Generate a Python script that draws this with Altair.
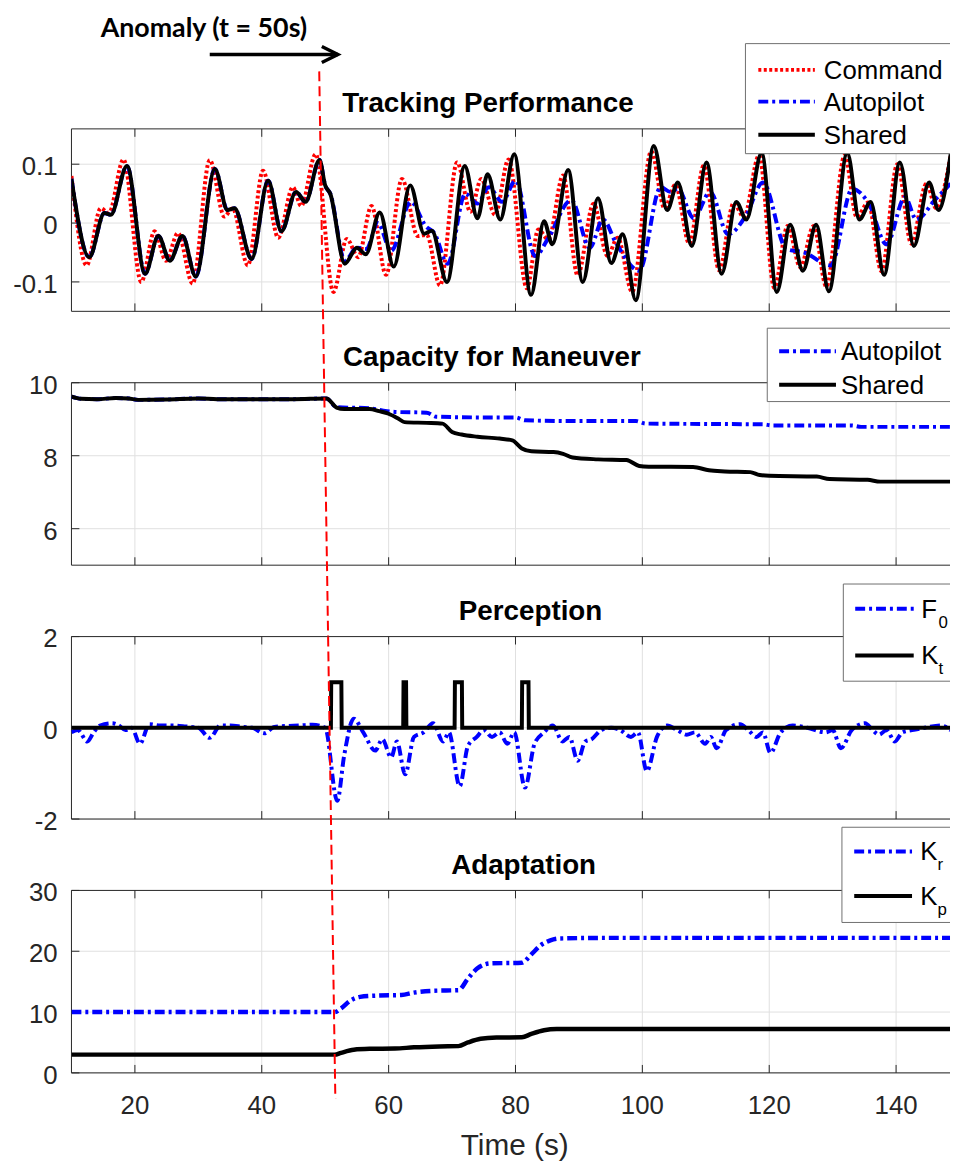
import altair as alt
import pandas as pd

# ---------------- data ----------------
X_TICKS = [20, 40, 60, 80, 100, 120, 140]
X_LABELS = ["20", "40", "60", "80", "100", "120", "140"]
T_RANGE = [10, 148.5]

TRACK_TICKS = [-0.1, 0, 0.1]
TRACK_LABELS = ["-0.1", "0", "0.1"]
TRACK_RANGE = [-0.15, 0.16]
CAP_TICKS = [6, 8, 10]
CAP_LABELS = ["6", "8", "10"]
CAP_RANGE = [5, 10]
PERC_TICKS = [-2, 0, 2]
PERC_LABELS = ["-2", "0", "2"]
PERC_RANGE = [-2, 2]
ADAPT_TICKS = [0, 10, 20, 30]
ADAPT_LABELS = ["0", "10", "20", "30"]
ADAPT_RANGE = [0, 30]

COMMAND_TRACK = [(10, 0.08), (12.4, -0.072), (14.6, 0.025), (15.9, 0.017), (18.2, 0.108), (21.0, -0.1),
                 (23.1, -0.014), (24.9, -0.064), (26.8, -0.017), (29.1, -0.103), (31.8, 0.107), (34.1, 0.011),
                 (35.4, 0.025), (37.8, -0.072), (40.2, 0.089), (42.6, -0.025), (44.9, 0.061), (46.2, 0.029),
                 (48.5, 0.117), (51.3, -0.117), (53.4, -0.027), (55.2, -0.058), (57.3, 0.029), (59.6, -0.088),
                 (62.1, 0.075), (64.6, -0.022), (66.0, -0.02), (68.1, -0.106), (70.8, 0.103), (72.9, 0.019),
                 (74.6, 0.075), (76.8, 0.014), (78.9, 0.108), (81.8, -0.111), (83.6, -0.011), (85.2, -0.028),
                 (87.5, 0.081), (89.8, -0.089), (92.3, 0.033), (94.5, -0.056), (96.1, -0.025), (98.4, -0.117),
                 (101.4, 0.122), (103.5, 0.025), (105.2, 0.065), (107.4, -0.035), (109.7, 0.098), (112.1, -0.08),
                 (114.4, 0.034), (116.0, 0.01), (118.4, 0.115), (120.8, -0.11), (122.9, -0.005), (124.9, -0.075),
                 (127.0, -0.005), (129.0, -0.108), (131.9, 0.115), (133.8, 0.01), (135.6, 0.035), (137.7, -0.082),
                 (140.2, 0.1), (142.4, -0.035), (144.8, 0.067), (146.3, 0.025), (148.6, 0.115)]

SHARED_TRACK = [(10, 0.075), (12.8, -0.058), (15.2, 0.017), (16.2, 0.014), (18.75, 0.097), (21.6, -0.086),
                (23.7, -0.022), (25.5, -0.064), (27.5, -0.022), (29.6, -0.091), (32.6, 0.092), (34.6, 0.022),
                (35.7, 0.025), (38.4, -0.061), (41.0, 0.072), (43.1, -0.014), (45.4, 0.053), (46.9, 0.036),
                (49.1, 0.107), (50.0, 0.064), (50.8, 0.05), (53.1, -0.069), (55.0, -0.042), (56.4, -0.053),
                (58.6, 0.018), (60.8, -0.074), (63.4, 0.064), (65.6, -0.018), (66.8, -0.013), (69.2, -0.1),
                (72.0, 0.097), (74.0, 0.008), (75.6, 0.083), (77.6, 0.006), (79.8, 0.117), (82.45, -0.122),
                (84.5, 0.003), (85.8, -0.036), (88.3, 0.09), (90.6, -0.1), (93.0, 0.042), (95.1, -0.068),
                (96.9, -0.019), (98.96, -0.131), (101.8, 0.131), (103.9, 0.022), (105.6, 0.069), (107.8, -0.039),
                (110.1, 0.103), (112.5, -0.086), (114.8, 0.036), (116.4, 0.006), (118.8, 0.119), (121.2, -0.117),
                (123.3, -0.003), (125.3, -0.081), (127.4, -0.003), (129.4, -0.116), (132.3, 0.119), (134.2, 0.006),
                (136.0, 0.036), (138.1, -0.088), (140.6, 0.103), (142.8, -0.039), (145.2, 0.069), (146.7, 0.022),
                (148.6, 0.117)]

# autopilot follows the shared trace until the anomaly, then these points
AUTOPILOT_TRACK_AFTER = [(53.1, -0.064), (55.0, -0.042), (56.5, -0.044), (58.3, 0.0), (60.4, -0.047),
                         (63.5, 0.036), (65.9, -0.006), (67.2, -0.017), (69.3, -0.069), (72.1, 0.05),
                         (74.0, 0.033), (75.8, 0.061), (77.9, 0.036), (80.0, 0.072), (83.1, -0.056),
                         (85.2, -0.025), (88.8, 0.039), (91.7, -0.042), (93.8, 0.006), (95.8, -0.033),
                         (99.5, -0.081), (102.9, 0.061), (104.4, 0.053), (105.6, 0.058), (108.1, 0.008),
                         (110.7, 0.053), (113.5, -0.019), (116.4, 0.014), (119.0, 0.069), (122.7, -0.044),
                         (125.5, -0.05), (129.7, -0.072), (133.1, 0.058), (135.7, 0.033), (138.5, -0.036),
                         (141.4, 0.044), (143.2, 0.006), (146.1, 0.039), (148.6, 0.067)]

SHARED_CAP = [(10, 9.62), (11.5, 9.56), (14, 9.55), (17, 9.58), (19, 9.57), (20.5, 9.53), (25, 9.54),
              (30, 9.57), (33, 9.55), (40, 9.55), (45, 9.55), (50.2, 9.57), (51.8, 9.32), (53, 9.28),
              (57, 9.28), (58.5, 9.22), (60, 9.15), (61.5, 9.02), (62.5, 8.92), (66, 8.9), (68.5, 8.88),
              (70, 8.65), (71.5, 8.58), (74, 8.52), (77.5, 8.47), (79.5, 8.42), (81, 8.2), (82.5, 8.12),
              (86, 8.1), (87.5, 8.05), (89, 7.95), (93, 7.9), (97.5, 7.88), (99.5, 7.72), (101, 7.7),
              (108, 7.69), (110.5, 7.6), (113, 7.57), (117, 7.55), (118.5, 7.47), (120, 7.45), (127.5, 7.43),
              (129.5, 7.36), (135.5, 7.34), (137.5, 7.29), (148.6, 7.29)]

AUTOPILOT_CAP_AFTER = [(51.8, 9.33), (57, 9.3), (59, 9.24), (61, 9.2), (66, 9.18), (67.5, 9.07), (74, 9.05),
                       (80, 9.05), (81.5, 8.97), (90, 8.95), (99, 8.95), (100.5, 8.88), (110, 8.87),
                       (119, 8.86), (120.5, 8.83), (133, 8.83), (134.5, 8.79), (148.6, 8.79)]

F0_PERC = [(10, -0.1), (11, -0.05), (12.5, -0.3), (13.5, -0.1), (14.5, 0.05), (16.4, 0.1), (17.5, 0.05),
           (18.5, -0.05), (19.5, 0.0), (20.8, -0.35), (22.3, 0.08), (24, 0.05), (26, 0.05), (28, 0.03),
           (30, 0.0), (31.8, -0.22), (33.5, 0.05), (35, 0.05), (37, 0.02), (38.5, 0.0), (40.4, -0.12),
           (42, 0.02), (44, 0.04), (46, 0.05), (48, 0.07), (50, 0.0), (51.9, -1.6), (53, -0.6), (54.5, 0.2),
           (56, -0.1), (57.9, -0.5), (59, -0.25), (60.4, -0.65), (61.3, -0.3), (62.6, -1.02), (64, -0.2),
           (65.5, -0.1), (67.0, 0.1), (68.6, -0.3), (69.5, -0.1), (71.2, -1.28), (72.5, -0.4), (73.9, -0.2),
           (75, -0.05), (76.3, -0.2), (77.5, -0.1), (78.7, -0.35), (79.8, -0.1), (81.5, -1.31), (83, -0.35),
           (84.5, -0.1), (85.9, 0.05), (87.4, -0.3), (88.5, -0.2), (89.8, -0.72), (91, -0.3), (92, -0.25),
           (93.5, -0.05), (95.1, 0.0), (96.5, -0.05), (98.2, -0.2), (99.3, -0.1), (100.7, -0.95),
           (102.3, -0.2), (103.9, 0.05), (105.5, -0.05), (107, -0.15), (108.3, -0.1), (109.9, -0.35),
           (110.8, -0.2), (111.7, -0.45), (113.2, -0.05), (115.4, 0.08), (116.7, -0.05), (118, -0.2),
           (119, -0.1), (120.2, -0.55), (121.8, -0.1), (123.7, 0.05), (126, 0.0), (128.9, -0.1),
           (130, -0.05), (131.3, -0.45), (133, -0.05), (135.1, 0.1), (136.3, -0.05), (137.3, -0.15),
           (138.5, -0.05), (139.8, -0.3), (141, -0.1), (142.5, -0.05), (144.5, 0.0), (147.1, 0.05),
           (148.6, -0.05)]

KT_ON = [50.9, 62.3, 70.4, 81.0]
KT_OFF = [52.6, 62.8, 71.6, 82.1]

KR_ADAPT = [(10, 10), (51.5, 10), (52.5, 10.6), (54, 11.9), (55.5, 12.5), (58, 12.7), (62, 12.8), (64, 13.2),
            (67, 13.5), (71, 13.6), (72.5, 15.5), (74, 17.2), (76, 18.0), (81, 18.1), (82.5, 19.5),
            (84, 21.0), (85.5, 21.8), (87, 22.1), (95, 22.2), (148.6, 22.2)]
KP_ADAPT = [(10, 3), (51.5, 3), (52.5, 3.3), (54.5, 3.8), (57, 3.95), (61, 4.0), (64, 4.2), (68, 4.35),
            (71, 4.4), (72.5, 5.0), (74.5, 5.6), (77, 5.8), (81, 5.85), (82.5, 6.4), (84.5, 7.0), (86.5, 7.2),
            (148.6, 7.2)]

TITLES = ["Tracking Performance", "Capacity for Maneuver", "Perception", "Adaptation"]
X_TITLE = "Time (s)"
ANOMALY_LABEL = "Anomaly (t = 50s)"
ANOMALY_TEXT_T = 14.6
ARROW_T = [31.8, 52.0]
ANOMALY_LINE_T = [49.06, 51.6]   # time where the dashed marker starts (top) and ends (bottom)

# ---------------- styling ----------------
FONT = "Liberation Sans"
AX = "#262626"
GRID = "#e0e0e0"
LEG_EDGE = "#6e6e6e"
W, H, GAP = 886, 184, 72
LW = 4
TICK_FS = 26
LEG_FS = 26

STYLE = {
    "Command": dict(color="#ff0000", dash=[3, 2.5], label=("Command", "")),
    "Autopilot": dict(color="#0000ff", dash=[10, 4, 3, 4], label=("Autopilot", "")),
    "Shared": dict(color="#000000", dash=None, label=("Shared", "")),
    "F0": dict(color="#0000ff", dash=[10, 4, 3, 4], label=("F", "0")),
    "Kt": dict(color="#000000", dash=None, label=("K", "t")),
    "Kr": dict(color="#0000ff", dash=[10, 4, 3, 4], label=("K", "r")),
    "Kp": dict(color="#000000", dash=None, label=("K", "p")),
}

xs = alt.Scale(domain=T_RANGE, nice=False, zero=False)


def yscale(r):
    return alt.Scale(domain=r, nice=False, zero=False)


one = alt.Data(values=[{"k": 0}])


def series(pairs, name, ys, interp="monotone", width=LW):
    st = STYLE[name]
    df = pd.DataFrame(pairs, columns=["t", "v"])
    kw = dict(color=st["color"], strokeWidth=width, interpolate=interp, clip=True)
    if st["dash"]:
        kw["strokeDash"] = st["dash"]
    return alt.Chart(df).mark_line(**kw).encode(
        x=alt.X("t:Q", scale=xs, axis=None),
        y=alt.Y("v:Q", scale=ys, axis=None),
    )


def frame(yticks, ylabels, ys, last):
    """Grid, box, inward ticks and tick labels, drawn from the tick lists through the scales."""
    xdf = pd.DataFrame({"t": X_TICKS, "lab": X_LABELS})
    ydf = pd.DataFrame({"v": yticks, "lab": ylabels})
    X = alt.X("t:Q", scale=xs, axis=None)
    Y = alt.Y("v:Q", scale=ys, axis=None)
    out = [
        alt.Chart(xdf).mark_rule(color=GRID, strokeWidth=1).encode(x=X, y=alt.value(0), y2=alt.value(H)),
        alt.Chart(ydf).mark_rule(color=GRID, strokeWidth=1).encode(y=Y, x=alt.value(0), x2=alt.value(W)),
        alt.Chart(one).mark_rule(color=AX, strokeWidth=1).encode(
            x=alt.value(0), y=alt.value(0), y2=alt.value(H)),
        alt.Chart(one).mark_rule(color=AX, strokeWidth=1).encode(
            x=alt.value(0), x2=alt.value(W), y=alt.value(H)),
        alt.Chart(one).mark_rule(color=AX, strokeWidth=1).encode(
            x=alt.value(0), x2=alt.value(W), y=alt.value(0)),
        alt.Chart(xdf).mark_rule(color=AX, strokeWidth=1).encode(x=X, y=alt.value(H), y2=alt.value(H - 8)),
        alt.Chart(xdf).mark_rule(color=AX, strokeWidth=1).encode(x=X, y=alt.value(0), y2=alt.value(8)),
        alt.Chart(ydf).mark_rule(color=AX, strokeWidth=1).encode(y=Y, x=alt.value(0), x2=alt.value(8)),
        alt.Chart(ydf).mark_text(font=FONT, fontSize=TICK_FS, color=AX, align="right",
                                 baseline="alphabetic", dx=-14, dy=11).encode(
            y=Y, x=alt.value(0), text="lab:N"),
    ]
    if last:
        out += [
            alt.Chart(xdf).mark_text(font=FONT, fontSize=TICK_FS, color=AX, align="center",
                                     baseline="alphabetic").encode(
                x=X, y=alt.value(H + 41), text="lab:N"),
            alt.Chart(one).mark_text(text=X_TITLE, font=FONT, fontSize=30, color=AX, align="center",
                                     baseline="alphabetic").encode(
                x=alt.value(447), y=alt.value(H + 83)),
        ]
    return out


def title_layer(text, cx):
    return alt.Chart(one).mark_text(text=text, font=FONT, fontSize=28, fontWeight="bold", color="black",
                                    align="center", baseline="alphabetic").encode(
        x=alt.value(cx), y=alt.value(-17))


def legend(entries, x0, y0, y1, rows, line_x, label_x, font=LEG_FS):
    out = [
        alt.Chart(one).mark_rect(fill="white").encode(
            x=alt.value(x0), x2=alt.value(W), y=alt.value(y0), y2=alt.value(y1)),
        alt.Chart(one).mark_rule(color=LEG_EDGE, strokeWidth=1).encode(
            x=alt.value(x0), x2=alt.value(W), y=alt.value(y0)),
        alt.Chart(one).mark_rule(color=LEG_EDGE, strokeWidth=1).encode(
            x=alt.value(x0), x2=alt.value(W), y=alt.value(y1)),
        alt.Chart(one).mark_rule(color=LEG_EDGE, strokeWidth=1).encode(
            x=alt.value(x0), y=alt.value(y0), y2=alt.value(y1)),
    ]
    for name, ry in zip(entries, rows):
        st = STYLE[name]
        kw = dict(color=st["color"], strokeWidth=LW)
        if st["dash"]:
            kw["strokeDash"] = st["dash"]
        out.append(alt.Chart(one).mark_rule(**kw).encode(
            x=alt.value(line_x[0]), x2=alt.value(line_x[1]), y=alt.value(ry)))
        main, sub = st["label"]
        out.append(alt.Chart(one).mark_text(text=main, font=FONT, fontSize=font, color="black",
                                            align="left", baseline="alphabetic").encode(
            x=alt.value(label_x), y=alt.value(ry + 9)))
        if sub:
            out.append(alt.Chart(one).mark_text(text=sub, font=FONT, fontSize=17, color="black",
                                                align="left", baseline="alphabetic").encode(
                x=alt.value(label_x + 17.5), y=alt.value(ry + 19)))
    return out


# dashed anomaly marker, split into one segment per panel (local y from the panel's plot top)
STEP = H + GAP
MARK_TOP, MARK_BOTTOM = -58, 3 * STEP + 210


def anomaly_segment(i):
    ya = MARK_TOP if i == 0 else i * STEP
    yb = (i + 1) * STEP if i < 3 else MARK_BOTTOM

    def t_at(y):
        f = (y - MARK_TOP) / (MARK_BOTTOM - MARK_TOP)
        return ANOMALY_LINE_T[0] + f * (ANOMALY_LINE_T[1] - ANOMALY_LINE_T[0])

    df = pd.DataFrame({"t1": [t_at(ya)], "t2": [t_at(yb)]})
    return alt.Chart(df).mark_rule(color="#ff0000", strokeWidth=2, strokeDash=[10, 5]).encode(
        x=alt.X("t1:Q", scale=xs, axis=None), x2="t2:Q",
        y=alt.value(ya - i * STEP), y2=alt.value(yb - i * STEP))


# ---------------- panel 1 ----------------
ys1 = yscale(TRACK_RANGE)
autopilot_track = [p for p in SHARED_TRACK if p[0] <= 50.8] + AUTOPILOT_TRACK_AFTER
p1_layers = frame(TRACK_TICKS, TRACK_LABELS, ys1, False) + [
    series(COMMAND_TRACK, "Command", ys1),
    series(autopilot_track, "Autopilot", ys1),
    series(SHARED_TRACK, "Shared", ys1),
    anomaly_segment(0),
    title_layer(TITLES[0], 420),
    alt.Chart(pd.DataFrame({"t": [ANOMALY_TEXT_T]})).mark_text(
        text=ANOMALY_LABEL, font="Lato", fontWeight="bold", fontSize=27, color="black",
        align="left", baseline="alphabetic").encode(
        x=alt.X("t:Q", scale=xs, axis=None), y=alt.value(-93)),
    alt.Chart(pd.DataFrame({"t1": [ARROW_T[0]], "t2": [ARROW_T[1]]})).mark_rule(
        color="black", strokeWidth=3.5).encode(
        x=alt.X("t1:Q", scale=xs, axis=None), x2="t2:Q", y=alt.value(-75)),
    alt.Chart(pd.DataFrame({"t": [ARROW_T[1]]})).mark_point(
        shape="M -1 -0.5 L 0 0 L -1 0.5", filled=False, size=1050, strokeWidth=3.5,
        color="black", opacity=1).encode(
        x=alt.X("t:Q", scale=xs, axis=None), y=alt.value(-75)),
] + legend(["Command", "Autopilot", "Shared"], 679.7, -86, 25, [-59.5, -27.5, 6], (692.7, 749.7), 758.7)
p1 = alt.layer(*p1_layers).properties(width=W, height=H)

# ---------------- panel 2 ----------------
ys2 = yscale(CAP_RANGE)
autopilot_cap = [p for p in SHARED_CAP if p[0] <= 50.2] + AUTOPILOT_CAP_AFTER
p2_layers = frame(CAP_TICKS, CAP_LABELS, ys2, False) + [
    series(autopilot_cap, "Autopilot", ys2),
    series(SHARED_CAP, "Shared", ys2),
    anomaly_segment(1),
    title_layer(TITLES[1], 424),
] + legend(["Autopilot", "Shared"], 701.7, -55, 19, [-31.7, 2], (713.7, 771), 776)
p2 = alt.layer(*p2_layers).properties(width=W, height=H)

# ---------------- panel 3 ----------------
ys3 = yscale(PERC_RANGE)
kt = [(T_RANGE[0], 0)]
for a, b in zip(KT_ON, KT_OFF):
    kt += [(a, 0), (a + 0.05, 1), (b - 0.05, 1), (b, 0)]
kt += [(148.6, 0)]
p3_layers = frame(PERC_TICKS, PERC_LABELS, ys3, False) + [
    series(F0_PERC, "F0", ys3),
    series(kt, "Kt", ys3, interp="linear"),
    anomaly_segment(2),
    title_layer(TITLES[2], 463),
] + legend(["F0", "Kt"], 778.4, -53, 45, [-28, 19], (790.4, 849.4), 857)
p3 = alt.layer(*p3_layers).properties(width=W, height=H)

# ---------------- panel 4 ----------------
ys4 = yscale(ADAPT_RANGE)
p4_layers = frame(ADAPT_TICKS, ADAPT_LABELS, ys4, True) + [
    series(KR_ADAPT, "Kr", ys4, width=4.5),
    series(KP_ADAPT, "Kp", ys4, width=4.5),
    anomaly_segment(3),
    title_layer(TITLES[3], 456),
] + legend(["Kr", "Kp"], 777, -63.7, 32.3, [-39.3, 5.7], (789.4, 847.7), 856)
p4 = alt.layer(*p4_layers).properties(width=W, height=H)

chart = alt.vconcat(p1, p2, p3, p4, spacing=GAP, bounds="flush").properties(
    padding={"left": 5, "top": 2, "right": 0, "bottom": 0}, background="white"
).configure_view(stroke=None)

chart.save("out.html", embed_options={"renderer": "svg", "actions": False})
